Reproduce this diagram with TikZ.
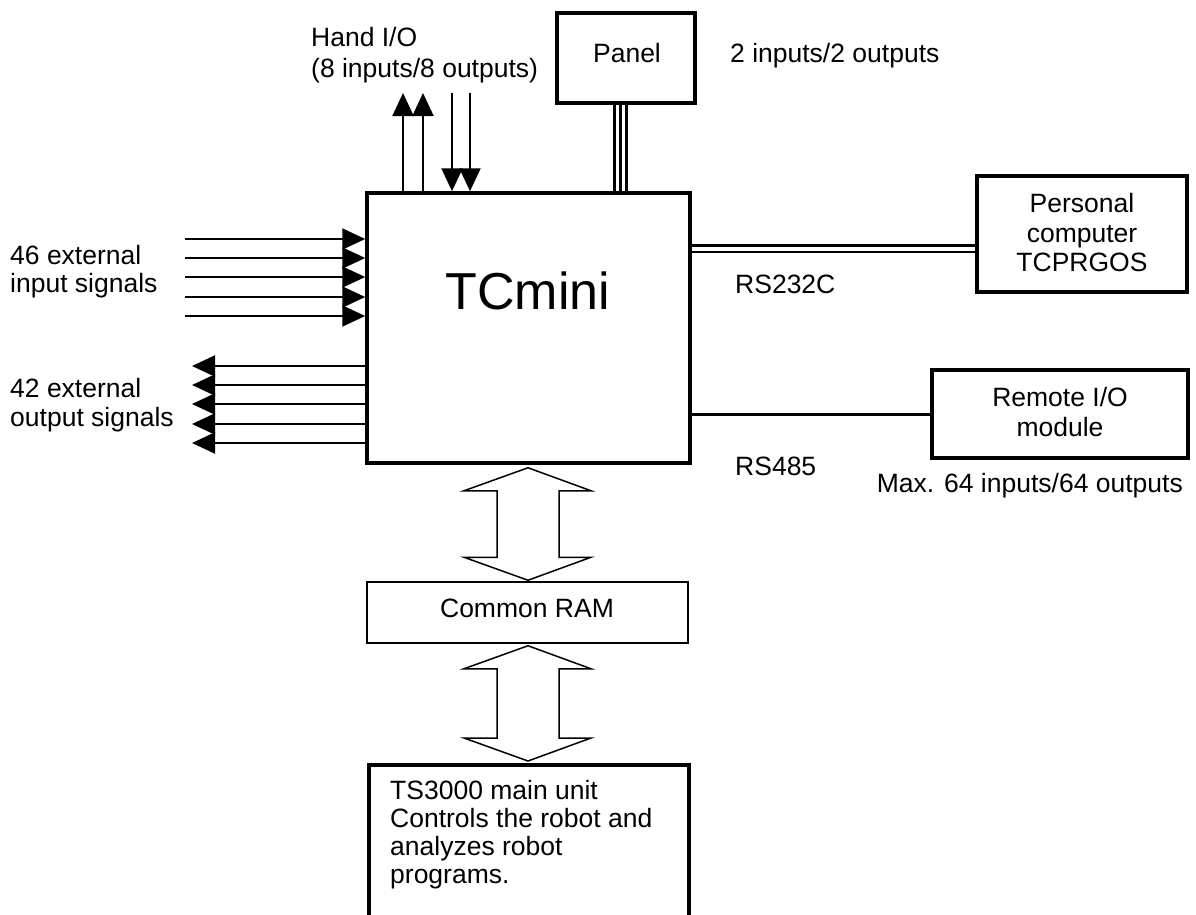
\documentclass[tikz,border=0pt]{standalone}
\usepackage{fontspec}
\setmainfont{Liberation Sans}
\usetikzlibrary{arrows.meta,calc}
\begin{document}
\begin{tikzpicture}[x=1pt,y=-1pt,
  thickbox/.style={draw, line width=3.5pt, inner sep=0pt},
  thinbox/.style={draw, line width=1.5pt, inner sep=0pt},
  lbl/.style={font=\fontsize{26.5}{30}\selectfont, inner sep=0pt},
  sig/.style={line width=2pt, -{Triangle[length=23pt,width=21pt]}},
  bigarrow/.style={draw, line width=1.5pt, line join=miter},
  link/.style={line width=2.5pt}]
\useasboundingbox (0,0) rectangle (1196,914);

% boxes
\node[thickbox, minimum width=323pt, minimum height=270pt] (tc) at (528.5,328) {};
\node[thickbox, minimum width=138pt, minimum height=90pt] (panel) at (626,58) {};
\node[thickbox, minimum width=210pt, minimum height=116pt] (pc) at (1082,234) {};
\node[thickbox, minimum width=256pt, minimum height=88pt] (remote) at (1060,414) {};
\node[thinbox, minimum width=321pt, minimum height=61pt] (ram) at (527.5,612.5) {};
\node[thickbox, anchor=north west, minimum width=320pt, minimum height=220pt] (ts) at (367,763) {};

% texts
\node[lbl, anchor=base, font=\fontsize{52}{60}\selectfont] (tctext) at (528,309) {TCmini};
\node[lbl, anchor=base] (paneltext) at (627,62) {Panel};
\node[lbl, anchor=base west] (panelio) at (730,62) {2 inputs/2 outputs};
\node[lbl, anchor=base west] (hand1) at (311,46) {Hand I/O};
\node[lbl, anchor=base west] (hand2) at (311,77) {(8 inputs/8 outputs)};
\node[lbl, anchor=base west] (in1) at (10,264) {46 external};
\node[lbl, anchor=base west] (in2) at (10,292) {input signals};
\node[lbl, anchor=base west] (out1) at (10,397) {42 external};
\node[lbl, anchor=base west] (out2) at (10,426) {output signals};
\node[lbl, align=center, anchor=north, font=\fontsize{26.5}{29.5}\selectfont] (pctext) at (1082,193.5) {Personal\\computer\\TCPRGOS};
\node[lbl, align=center, anchor=north, font=\fontsize{26.5}{30}\selectfont] (remotetext) at (1060,387.5) {Remote I/O\\module};
\node[lbl, anchor=base west] (rs232) at (735,293) {RS232C};
\node[lbl, anchor=base west] (rs485) at (735,475) {RS485};
\node[lbl, anchor=base east] (maxio) at (1183,492) {Max. 64 inputs/64 outputs};
\node[lbl, anchor=base] (ramtext) at (527,617) {Common RAM};
\node[lbl, align=left, anchor=north west, font=\fontsize{26.5}{27.7}\selectfont] (tstext) at (390,780.5) {TS3000 main unit\\Controls the robot and\\analyzes robot\\programs.};

% input signals
\foreach \y [count=\i] in {239,258,277,297,316}{
  \coordinate (ia\i) at (185,\y);
  \draw[sig] (ia\i) -- (tc.west |- ia\i);
}
% output signals
\foreach \y [count=\i] in {366,385,404,424,443}{
  \coordinate (oa\i) at (192,\y);
  \draw[sig] (tc.west |- oa\i) -- (oa\i);
}
% hand I/O
\foreach \x [count=\i] in {403,423}{
  \coordinate (hu\i) at (\x,93);
  \draw[sig] (tc.north -| hu\i) -- (hu\i);
}
\foreach \x [count=\i] in {452,470}{
  \coordinate (hd\i) at (\x,93);
  \draw[sig] (hd\i) -- (tc.north -| hd\i);
}
% panel triple line
\foreach \x in {614.5,620.5,626.5}{
  \coordinate (pl) at (\x,0);
  \draw[line width=2.5pt] (panel.south -| pl) -- (tc.north -| pl);
}
% RS232C double line
\foreach \y in {245.5,252}{
  \coordinate (rl) at (0,\y);
  \draw[link] (tc.east |- rl) -- (pc.west |- rl);
}
% RS485
\draw[line width=3pt] (tc.east |- remote.west) -- (remote.west);

% double arrows
\path (tc.south) ++(-0.5,3) coordinate (d1t);
\path (ram.north) ++(0.5,-1) coordinate (d1b);
\draw[bigarrow] (d1t) -- ++(63,23) -- ++(-32,0) -- ($(d1b)+(31,-23)$) -- ++(32,0) -- (d1b)
  -- ++(-64,-23) -- ++(33,0) -- ($(d1t)+(-31,23)$) -- ++(-33,0) -- cycle;
\path (ram.south) ++(0.5,2) coordinate (d2t);
\path (ts.north -| d2t) ++(0,-2) coordinate (d2b);
\draw[bigarrow] (d2t) -- ++(63,23) -- ++(-32,0) -- ($(d2b)+(31,-23)$) -- ++(32,0) -- (d2b)
  -- ++(-64,-23) -- ++(33,0) -- ($(d2t)+(-31,23)$) -- ++(-33,0) -- cycle;
\end{tikzpicture}
\end{document}
